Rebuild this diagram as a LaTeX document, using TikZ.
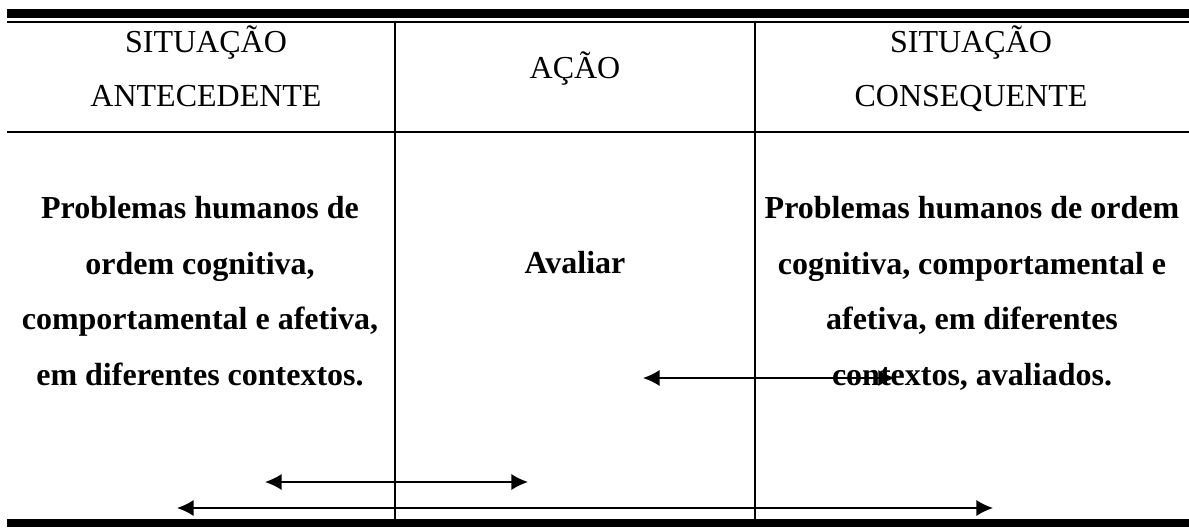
\documentclass[tikz,border=0pt]{standalone}
\usepackage{fontspec}
\setmainfont{Liberation Serif}
\usetikzlibrary{arrows.meta}

\tikzset{
  cabec/.style={font=\fontsize{12}{20.3}\selectfont, align=center, inner sep=0pt},
  corpo/.style={font=\fontsize{12}{20.8}\selectfont\bfseries, align=center, inner sep=0pt},
  seta/.style={arrows={Latex[length=6.2pt,width=6pt]-Latex[length=6.2pt,width=6pt]}, line width=0.6pt},
  grade/.style={line width=0.9pt}
}

\begin{document}
\begin{tikzpicture}[x=0.375pt, y=-0.375pt]
    \useasboundingbox (0,0) rectangle (1189,527);
    % filetes e colunas
    \fill (7,9) rectangle (1189,18);
    \draw[line width=0.75pt] (7,21.5) -- (1189,21.5);
    \draw[grade] (7,132) -- (1189,132);
    \fill (7,519) rectangle (1189,527);
    \draw[grade] (395,21.5) -- (395,519);
    \draw[grade] (755,21.5) -- (755,519);
    % cabecalho
    \node[cabec, anchor=north] (antec) at (206,25) {SITUAÇÃO\\ANTECEDENTE};
    \node[cabec, anchor=base] (acao) at (575,78) {AÇÃO};
    \node[cabec, anchor=north] (conseq) at (971,25) {SITUAÇÃO\\CONSEQUENTE};
    % corpo
    \node[corpo, anchor=north] (probA) at (200,196) {Problemas humanos de\\ordem cognitiva,\\comportamental e afetiva,\\em diferentes contextos.};
    \node[corpo, anchor=base] (avaliar) at (575,273) {Avaliar};
    \node[corpo, anchor=north] (probC) at (972,196) {Problemas humanos de ordem\\cognitiva, comportamental e\\afetiva, em diferentes\\contextos, avaliados.};
    % setas
    \coordinate (meioE) at (643,378);
    \coordinate (meioD) at (895,378);
    \coordinate (curtaE) at (265,482);
    \coordinate (curtaD) at (528,482);
    \coordinate (longaE) at (177,508);
    \coordinate (longaD) at (993,508);
    \draw[seta] (meioE) -- (meioD);
    \draw[seta] (curtaE) -- (curtaD);
    \draw[seta] (longaE) -- (longaD);
\end{tikzpicture}
\end{document}
